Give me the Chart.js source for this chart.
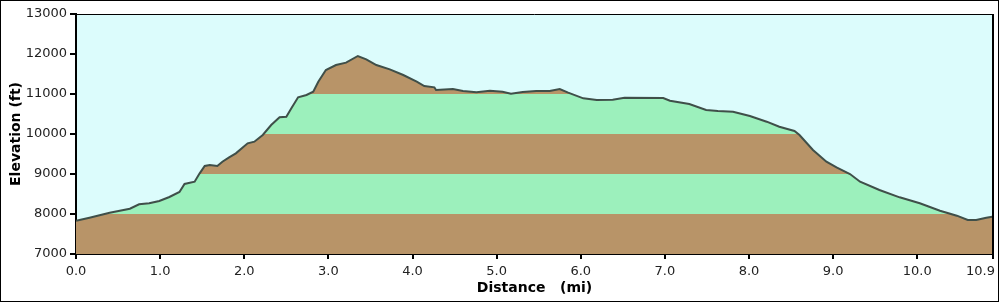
<!DOCTYPE html>
<html>
<head>
<meta charset="utf-8">
<script src="https://cdn.jsdelivr.net/npm/chart.js@4/dist/chart.umd.min.js"></script>
<style>
html, body { margin: 0; padding: 0; background: #fff; }
#wrap { width: 999px; height: 302px; position: relative; }
</style>
</head>
<body>
<div id="wrap"><canvas id="elevation-canvas" width="999" height="302"></canvas></div>
<script>
// Elevation profile data (mi, ft)
var distance = [0, 0.16, 0.40, 0.64, 0.75, 0.87, 0.99, 1.11, 1.23, 1.29, 1.41, 1.47, 1.53, 1.59, 1.68, 1.74, 1.82, 1.90,
  2.04, 2.12, 2.22, 2.32, 2.42, 2.50, 2.56, 2.64, 2.74, 2.82, 2.88, 2.97, 3.09, 3.21, 3.35, 3.45, 3.57, 3.73, 3.89,
  4.05, 4.14, 4.26, 4.28, 4.48, 4.60, 4.76, 4.92, 5.07, 5.17, 5.31, 5.47, 5.63, 5.75, 5.85, 6.03, 6.19, 6.38, 6.52,
  6.98, 7.06, 7.29, 7.49, 7.63, 7.81, 8.01, 8.21, 8.36, 8.54, 8.60, 8.76, 8.92, 9.04, 9.20, 9.32, 9.55, 9.79,
  10.03, 10.27, 10.47, 10.60, 10.70, 10.82, 10.89]
var elevation = [7832, 7908, 8033, 8133, 8243, 8267, 8325, 8425, 8550, 8750, 8808, 9017, 9200, 9225, 9200, 9308, 9417, 9517,
  9767, 9808, 9975, 10225, 10417, 10433, 10642, 10917, 10975, 11058, 11308, 11600, 11725, 11783, 11950, 11867, 11725, 11617, 11475,
  11308, 11200, 11167, 11100, 11125, 11075, 11042, 11083, 11058, 11008, 11050, 11075, 11075, 11125, 11033, 10892, 10850, 10858, 10908,
  10900, 10833, 10750, 10600, 10575, 10558, 10450, 10308, 10183, 10075, 9975, 9600, 9308, 9167, 9000, 8808, 8600, 8417,
  8267, 8083, 7958, 7850, 7850, 7908, 7933]

var xTicks = [0, 1, 2, 3, 4, 5, 6, 7, 8, 9, 10, 10.9]
var yTicks = [7000, 8000, 9000, 10000, 11000, 12000, 13000]
// colour bands between the y ticks, bottom first
var bandColors = ['#b89468', '#9cf0bc', '#b89468', '#9cf0bc', '#b89468', '#9cf0bc']

var skyColor = '#dcfcfc'
var lineColor = '#3f4f49'
var tickFont = { family: 'DejaVu Sans', size: 13 }

// hard-stop gradient so each 1000 ft band gets its own colour
function bandFill(context) {
  var chart = context.chart
  if (!chart.chartArea) return bandColors[0]
  var y = chart.scales.y
  var y0 = y.getPixelForValue(yTicks[0])
  var y1 = y.getPixelForValue(yTicks[yTicks.length - 1])
  var g = chart.ctx.createLinearGradient(0, y0, 0, y1)
  var span = yTicks[yTicks.length - 1] - yTicks[0]
  for (var i = 0; i < bandColors.length; i++) {
    var a = (yTicks[i] - yTicks[0]) / span
    var b = (yTicks[i + 1] - yTicks[0]) / span
    g.addColorStop(a, bandColors[i])
    g.addColorStop(b, bandColors[i])
  }
  return g
}

var framePlugin = {
  id: 'frame',
  beforeDraw: function (chart) {
    var ctx = chart.ctx, a = chart.chartArea
    ctx.save()
    ctx.fillStyle = '#fff'
    ctx.fillRect(0, 0, chart.width, chart.height)
    ctx.fillStyle = skyColor
    ctx.fillRect(a.left, a.top, a.right - a.left, a.bottom - a.top)
    ctx.restore()
  },
  afterDraw: function (chart) {
    var ctx = chart.ctx, a = chart.chartArea
    ctx.save()
    ctx.strokeStyle = '#000'
    // top and right edges of the plot
    ctx.lineWidth = 1
    ctx.beginPath()
    ctx.moveTo(a.left, a.top + 0.5)
    ctx.lineTo(a.right, a.top + 0.5)
    ctx.stroke()
    ctx.lineWidth = 2
    ctx.beginPath()
    ctx.moveTo(a.right, a.top)
    ctx.lineTo(a.right, a.bottom)
    ctx.stroke()
    // outer border of the picture
    ctx.lineWidth = 1
    ctx.strokeRect(0.5, 0.5, chart.width - 1, chart.height - 1)

    // x tick labels, last one pulled inside
    var xs = chart.scales.x
    ctx.fillStyle = '#222'
    ctx.font = '13px "DejaVu Sans"'
    ctx.textBaseline = 'alphabetic'
    for (var i = 0; i < xTicks.length; i++) {
      var px = xs.getPixelForValue(xTicks[i])
      var last = i === xTicks.length - 1
      ctx.textAlign = last ? 'right' : 'center'
      ctx.fillText(xTicks[i].toFixed(1), last ? px + 2 : px, 275)
    }
    ctx.restore()
  }
}

var ctx = document.getElementById('elevation-canvas').getContext('2d')
var elevationChart = new Chart(ctx, {
  type: 'line',
  data: {
    datasets: [{
      data: distance.map(function (d, i) { return { x: d, y: elevation[i] } }),
      borderColor: lineColor,
      borderWidth: 2,
      backgroundColor: bandFill,
      fill: 'start',
      pointRadius: 0,
      tension: 0
    }]
  },
  options: {
    responsive: false,
    animation: false,
    layout: { padding: { top: 14, right: 6, left: 0, bottom: 0 } },
    plugins: {
      legend: { display: false },
      tooltip: { enabled: false }
    },
    scales: {
      x: {
        type: 'linear',
        min: 0,
        max: 10.9,
        afterBuildTicks: function (scale) {
          scale.ticks = xTicks.map(function (v) { return { value: v } })
        },
        afterFit: function (scale) { scale.height = 48 },
        ticks: { display: false },
        grid: { drawOnChartArea: false, drawTicks: true, tickLength: 5, color: '#000', lineWidth: 2 },
        border: { display: true, color: '#000', width: 2 },
        title: {
          display: true,
          text: 'Distance   (mi)',
          color: '#000',
          font: { family: 'DejaVu Sans', size: 14, weight: 'bold' },
          padding: { top: 0, bottom: 5 }
        }
      },
      y: {
        min: 7000,
        max: 13000,
        afterBuildTicks: function (scale) {
          scale.ticks = yTicks.map(function (v) { return { value: v } })
        },
        afterFit: function (scale) { scale.width = 76 },
        ticks: {
          color: '#222',
          font: tickFont,
          padding: 3,
          callback: function (value) { return String(value) }
        },
        grid: { drawOnChartArea: false, drawTicks: true, tickLength: 6, color: '#000', lineWidth: 2 },
        border: { display: true, color: '#000', width: 2 },
        title: {
          display: true,
          text: 'Elevation (ft)',
          color: '#000',
          font: { family: 'DejaVu Sans', size: 14, weight: 'bold' },
          padding: { top: 8, bottom: 0 }
        }
      }
    }
  },
  plugins: [framePlugin]
})
</script>
</body>
</html>
